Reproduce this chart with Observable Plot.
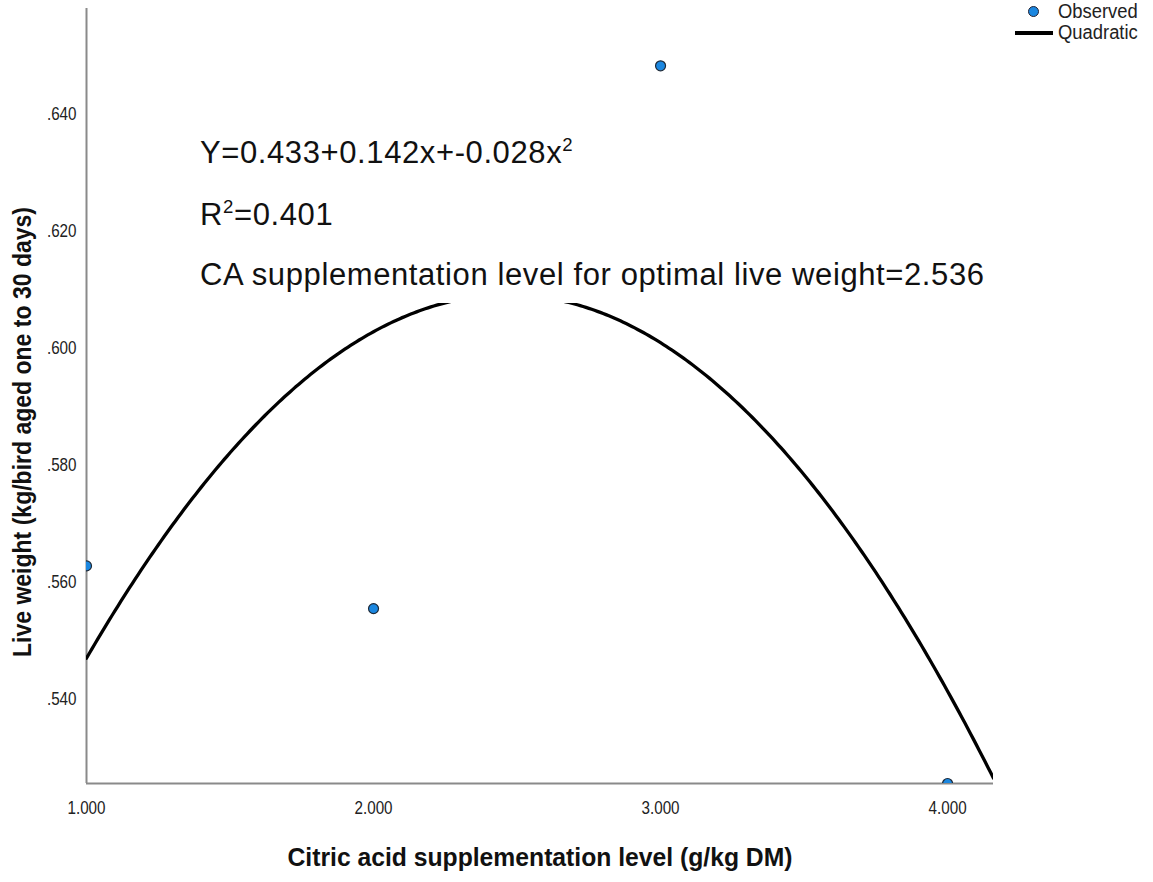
<!DOCTYPE html>
<html>
<head>
<meta charset="utf-8">
<script src="https://cdn.jsdelivr.net/npm/d3@7"></script>
<script src="https://cdn.jsdelivr.net/npm/@observablehq/plot@0.6"></script>
<style>
  html, body { margin: 0; padding: 0; background: #fff; }
  #wrap { position: relative; width: 1153px; height: 882px; overflow: hidden; }
  #note {
    position: absolute; left: 190px; top: 122px; width: 812px; height: 181px;
    background: #fff; font-family: "Liberation Sans", Arial, sans-serif;
    font-size: 31px; letter-spacing: 0.6px; color: #111; line-height: 1;
  }
  #note div { position: absolute; left: 10px; white-space: nowrap; }
  #note sup { font-size: 0.6em; vertical-align: 0.62em; line-height: 0; }
  #legend { position: absolute; left: 1010px; top: 0px; font-family: "Liberation Sans", Arial, sans-serif; font-size: 20px; color: #222; }
  #legend .row { position: relative; height: 21px; }
  #legend .dot { position: absolute; left: 18px; top: 6px; width: 9px; height: 9px; border-radius: 50%; background: #1b87e0; border: 1px solid #223; }
  #legend .line { position: absolute; left: 5px; top: 10px; width: 38px; height: 4px; background: #000; }
  #legend .lab { position: absolute; left: 48px; top: 0px; transform: scaleX(0.92); transform-origin: left center; white-space: nowrap; }
</style>
</head>
<body>
<div id="wrap"></div>
<script>
// Observed live weight per citric acid level
const levels = [1, 2, 3, 4];
const liveWeight = [0.5627, 0.5554, 0.6482, 0.5255];

// Axis extents and tick labels
const xDomain = [1, 4.16];
const yDomain = [0.5255, 0.658];
const xTicks = [1, 2, 3, 4];
const xTickLabels = ["1.000", "2.000", "3.000", "4.000"];
const yTicks = [0.54, 0.56, 0.58, 0.60, 0.62, 0.64];
const yTickLabels = [".540", ".560", ".580", ".600", ".620", ".640"];

const xTitle = "Citric acid supplementation level (g/kg DM)";
const yTitle = "Live weight (kg/bird aged one to 30 days)";

// Least-squares quadratic fit y = a + b x + c x^2
function quadFit(xs, ys) {
  const S = k => d3.sum(xs, x => x ** k);
  const T = k => d3.sum(xs, (x, i) => ys[i] * x ** k);
  const A = [[S(0), S(1), S(2)], [S(1), S(2), S(3)], [S(2), S(3), S(4)]];
  const B = [T(0), T(1), T(2)];
  for (let i = 0; i < 3; i++) {
    for (let j = i + 1; j < 3; j++) {
      const f = A[j][i] / A[i][i];
      for (let k = i; k < 3; k++) A[j][k] -= f * A[i][k];
      B[j] -= f * B[i];
    }
  }
  const c = [0, 0, 0];
  for (let i = 2; i >= 0; i--) {
    let s = B[i];
    for (let k = i + 1; k < 3; k++) s -= A[i][k] * c[k];
    c[i] = s / A[i][i];
  }
  return c;
}
const coef = quadFit(levels, liveWeight);
const curve = d3.range(xDomain[0], xDomain[1] + 1e-9, 0.01).map(x => ({
  x, y: coef[0] + coef[1] * x + coef[2] * x * x
}));
const observed = levels.map((x, i) => ({x, y: liveWeight[i]}));

const chart = Plot.plot({
  width: 1153,
  height: 882,
  marginLeft: 86,
  marginTop: 8,
  marginRight: 160,
  marginBottom: 99,
  style: {fontFamily: "'Liberation Sans', Arial, sans-serif", fontSize: "19px", color: "#222", background: "#fff"},
  x: {domain: xDomain},
  y: {domain: yDomain},
  marks: [
    Plot.axisX({ticks: xTicks, tickFormat: (d, i) => xTickLabels[i], tickSize: 0, tickPadding: 17, label: null, fontSize: 19}),
    Plot.axisY({ticks: yTicks, tickFormat: (d, i) => yTickLabels[i], tickSize: 0, tickPadding: 10, label: null, fontSize: 19}),
    Plot.ruleX([xDomain[0]], {stroke: "#8a8a8a", strokeWidth: 2}),
    Plot.ruleY([yDomain[0]], {stroke: "#8a8a8a", strokeWidth: 2}),
    Plot.line(curve, {x: "x", y: "y", stroke: "#000", strokeWidth: 3.3, clip: true}),
    Plot.dot(observed, {x: "x", y: "y", r: 5, fill: "#1b87e0", stroke: "#1e2a38", strokeWidth: 1.2, clip: true}),
    Plot.text([xTitle], {frameAnchor: "bottom", dy: 82, fontSize: 25, fontWeight: "bold", fill: "#111"}),
    Plot.text([yTitle], {frameAnchor: "left", dx: -64, dy: 36, rotate: -90, textAnchor: "middle", fontSize: 25, fontWeight: "bold", fill: "#111"})
  ]
});

const wrap = document.getElementById("wrap");
wrap.appendChild(chart);

// Narrow the tick labels and fit the axis titles to their lengths
function squeeze(el, length) {
  el.setAttribute("textLength", length);
  el.setAttribute("lengthAdjust", "spacingAndGlyphs");
}
chart.querySelectorAll('g[aria-label="x-axis tick label"] text, g[aria-label="y-axis tick label"] text')
  .forEach(t => squeeze(t, t.getComputedTextLength() * 0.8));
chart.querySelectorAll("text").forEach(t => {
  if (t.textContent === xTitle) squeeze(t, 505);
  if (t.textContent === yTitle) squeeze(t, 450);
});

// Fit annotation on a white panel over the plot
const note = document.createElement("div");
note.id = "note";
note.innerHTML = `
  <div style="top:15px">Y=0.433+0.142x+-0.028x<sup>2</sup></div>
  <div style="top:77px">R<sup>2</sup>=0.401</div>
  <div style="top:137px">CA supplementation level for optimal live weight=2.536</div>`;
wrap.appendChild(note);

// Legend
const legend = document.createElement("div");
legend.id = "legend";
legend.innerHTML = `
  <div class="row"><span class="dot"></span><span class="lab">Observed</span></div>
  <div class="row"><span class="line"></span><span class="lab">Quadratic</span></div>`;
wrap.appendChild(legend);
</script>
</body>
</html>
